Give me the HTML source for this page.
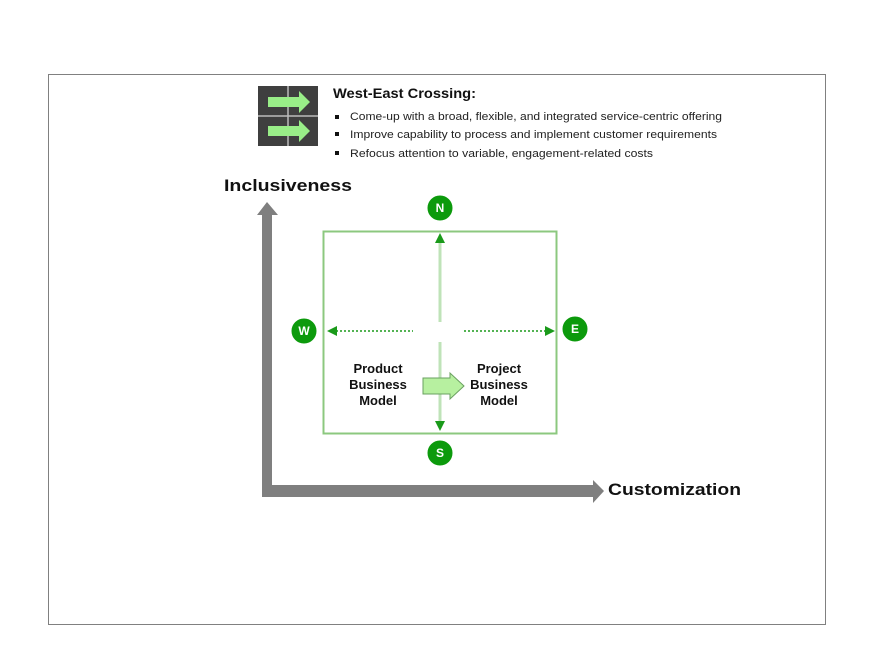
<!DOCTYPE html>
<html><head><meta charset="utf-8"><style>
body{margin:0;background:#fff;width:884px;height:663px;overflow:hidden;font-family:"Liberation Sans",Arial,sans-serif}
</style></head><body>
<svg width="884" height="663" xmlns="http://www.w3.org/2000/svg" font-family="Liberation Sans, Arial, sans-serif">
<rect x="48.5" y="74.5" width="777" height="550" fill="#fff" stroke="#808080" stroke-width="1"/>
<rect x="258" y="86" width="60" height="60" fill="#3f3f3f"/>
<line x1="288" y1="86" x2="288" y2="146" stroke="#bbb" stroke-width="1.5"/>
<line x1="258" y1="116" x2="318" y2="116" stroke="#bbb" stroke-width="1.5"/>
<polygon points="268,97 299,97 299,91 310,102 299,113 299,107 268,107" fill="#99ee88"/>
<polygon points="268,126 299,126 299,120 310,131 299,142 299,136 268,136" fill="#99ee88"/>
<text x="333" y="98" font-size="13.5" font-weight="bold" fill="#111" textLength="143" lengthAdjust="spacingAndGlyphs">West-East Crossing:</text>
<g font-size="11" fill="#222">
<rect x="335" y="115" width="4" height="4" fill="#111"/><text x="350" y="120" textLength="372" lengthAdjust="spacingAndGlyphs">Come-up with a broad, flexible, and integrated service-centric offering</text>
<rect x="335" y="132" width="4" height="4" fill="#111"/><text x="350" y="138" textLength="367" lengthAdjust="spacingAndGlyphs">Improve capability to process and implement customer requirements</text>
<rect x="335" y="151" width="4" height="4" fill="#111"/><text x="350" y="157" textLength="303" lengthAdjust="spacingAndGlyphs">Refocus attention to variable, engagement-related costs</text>
</g>
<text x="224" y="191" font-size="17" font-weight="bold" fill="#111" textLength="128" lengthAdjust="spacingAndGlyphs">Inclusiveness</text>
<text x="608" y="495" font-size="17" font-weight="bold" fill="#111" textLength="133" lengthAdjust="spacingAndGlyphs">Customization</text>
<polygon points="262,497 262,215 257,215 267,202 278,215 272,215 272,485 593,485 593,480 604,491 593,503 593,497" fill="#7f7f7f"/>
<rect x="323.5" y="231.5" width="233" height="202" fill="none" stroke="#8cc87f" stroke-width="2"/>
<line x1="440" y1="240" x2="440" y2="322" stroke="#bfe3b8" stroke-width="3"/>
<line x1="440" y1="342" x2="440" y2="425" stroke="#bfe3b8" stroke-width="3"/>
<polygon points="440,233 435,243 445,243" fill="#1a9a1a"/>
<polygon points="440,431 435,421 445,421" fill="#1a9a1a"/>
<line x1="336" y1="331" x2="413" y2="331" stroke="#1a9a1a" stroke-width="1.5" stroke-dasharray="2,2"/>
<polygon points="327,331 337,326 337,336" fill="#1a9a1a"/>
<line x1="464" y1="331" x2="546" y2="331" stroke="#1a9a1a" stroke-width="1.5" stroke-dasharray="2,2"/>
<polygon points="555,331 545,326 545,336" fill="#1a9a1a"/>
<g fill="#0c9a0c" stroke="#fff" stroke-width="1">
<circle cx="440" cy="208" r="13"/><circle cx="304" cy="331" r="13"/><circle cx="575" cy="329" r="13"/><circle cx="440" cy="453" r="13"/>
</g>
<g fill="#fff" font-size="12" font-weight="bold" text-anchor="middle">
<text x="440" y="212">N</text><text x="304" y="335">W</text><text x="575" y="333">E</text><text x="440" y="457">S</text>
</g>
<polygon points="423,378 450,378 450,373 464,386 450,399 450,394 423,394" fill="#b7f0a0" stroke="#6aa060" stroke-width="1"/>
<g font-size="13" font-weight="bold" fill="#111" text-anchor="middle">
<text x="378" y="373">Product</text><text x="378" y="389">Business</text><text x="378" y="405">Model</text>
<text x="499" y="373">Project</text><text x="499" y="389">Business</text><text x="499" y="405">Model</text>
</g>
</svg>
</body></html>
